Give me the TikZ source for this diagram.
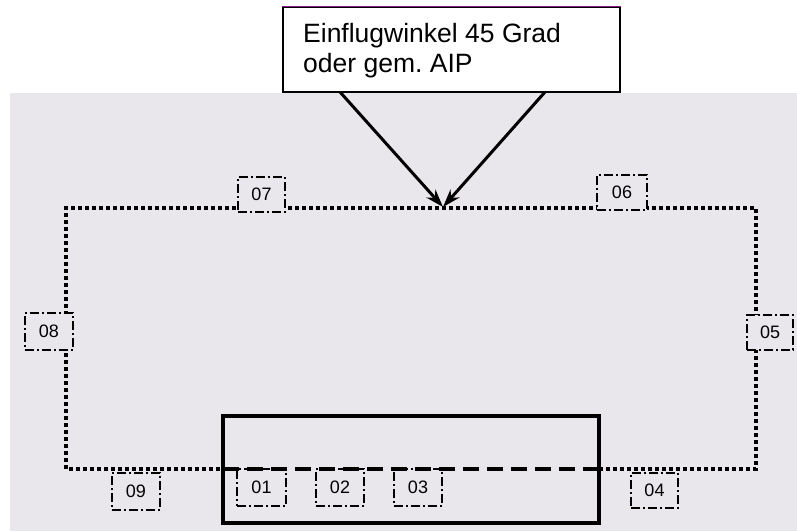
\documentclass[tikz,border=0pt]{standalone}
\usepackage{fontspec}
\setmainfont{Liberation Sans}
\usetikzlibrary{arrows.meta}
\definecolor{scanbg}{HTML}{E9E7EC}
\definecolor{topline}{HTML}{8B1A8B}
\tikzset{
  numbox/.style={draw=black, fill=scanbg, line width=2.2pt,
    dash pattern=on 9pt off 3pt on 2pt off 3pt,
    minimum height=35pt, inner sep=0pt, font=\fontsize{18}{18}\selectfont},
  dotline/.style={line width=4.2pt, dash pattern=on 4pt off 3pt},
  solidframe/.style={draw=black, line width=3.2pt},
  dashline/.style={line width=3.2pt, dash pattern=on 16pt off 8pt},
  approach/.style={line width=3pt, -{Stealth[length=18pt,width=12pt]}},
}
\begin{document}
\frenchspacing
\begin{tikzpicture}[x=1pt,y=-1pt]
\useasboundingbox (0,0) rectangle (797,531);
% scanned background
\fill[scanbg] (10,93) rectangle (797,531);

% bottom frame
\node[solidframe, minimum width=376pt, minimum height=107pt, inner sep=0pt] (frame) at (411,469.5) {};

% dotted circuit (outside the frame)
\coordinate (tl) at (66,208);
\coordinate (tr) at (756,208);
\coordinate (br) at (756,469);
\coordinate (bl) at (66,469);
\coordinate (dl) at (223,469);
\coordinate (dr) at (599,469);
\draw[dotline] (dr) -- (br) -- (tr) -- (tl) -- (bl) -- (dl);

% numbered boxes
\node[numbox, minimum width=47pt] (b07) at (261.5,194.5) {07};
\node[numbox, minimum width=50pt] (b06) at (622,192.5) {06};
\node[numbox, minimum width=46pt] (b05) at (770,332.5) {05};
\node[numbox, minimum width=47pt] (b04) at (654.5,490.5) {04};
\node[numbox, minimum width=48pt, minimum height=37pt] (b08) at (49,331.5) {08};
\node[numbox, minimum width=48pt, minimum height=37pt] (b09) at (136,491.5) {09};
\node[numbox, minimum width=49pt, minimum height=37pt] (b01) at (261.5,487.5) {01};
\node[numbox, minimum width=48pt, minimum height=37pt] (b02) at (340,487.5) {02};
\node[numbox, minimum width=48pt, minimum height=37pt] (b03) at (418,487.5) {03};

% dashed line inside the frame
\draw[dashline] (dl) -- (dr);

% top callout box
\node[draw=black, fill=white, line width=1.2pt, minimum width=337pt, minimum height=85pt, inner sep=0pt] (call) at (451.5,49.5) {};
\draw[topline, line width=1.6pt] (call.north west) -- (call.north east);
\node[anchor=base west, align=left, inner sep=0pt, font=\fontsize{26.5}{30}\selectfont] (txt) at (303,72.5) {Einflugwinkel 45 Grad\\oder gem. AIP};

% approach arrows
\coordinate (tip) at (443,207);
\coordinate (sa) at (340,92);
\coordinate (sb) at (545,92);
\draw[approach] (sa) -- (tip);
\draw[approach] (sb) -- (tip);
\end{tikzpicture}
\end{document}
